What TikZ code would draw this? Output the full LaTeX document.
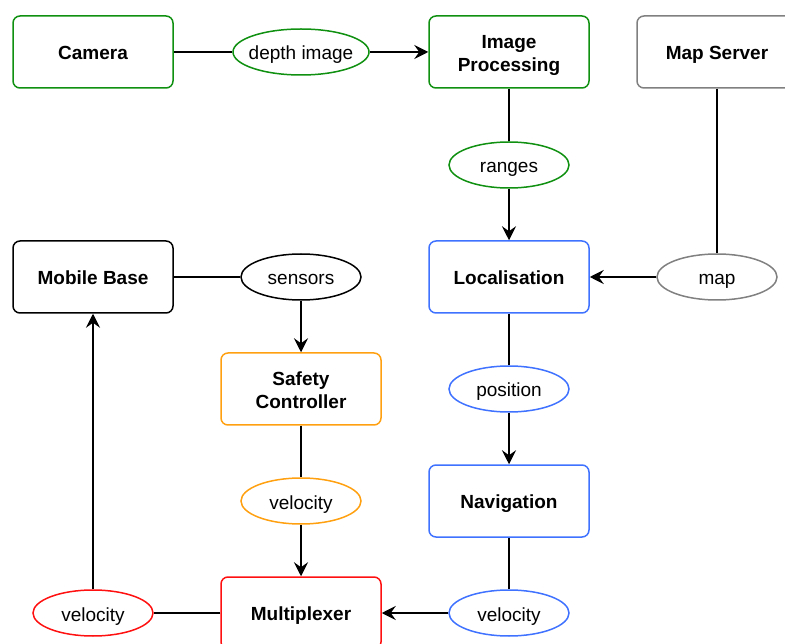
\documentclass[tikz,border=0pt]{standalone}
\usepackage{fontspec}
\setmainfont{Liberation Sans}
\usetikzlibrary{arrows.meta,shapes.geometric}
\definecolor{cgreen}{HTML}{109010}
\definecolor{cblue}{HTML}{3F72FF}
\definecolor{corange}{HTML}{FFA010}
\definecolor{cred}{HTML}{FF1010}
\definecolor{cgray}{HTML}{808080}
\begin{document}
\begin{tikzpicture}[x=1pt,y=-1pt,
  box/.style={draw, rounded corners=7pt, line width=1.5pt, minimum width=160pt, minimum height=72pt,
    inner sep=0pt, text height=19pt, text depth=4pt,
    font=\fontsize{19}{23}\selectfont\bfseries, align=center},
  twoline/.style={text height=42pt, text depth=2pt},
  msg/.style={draw, ellipse, line width=1.5pt, minimum width=120pt, minimum height=46pt,
    inner sep=0pt, text height=18pt, text depth=2pt, font=\fontsize{19}{23}\selectfont},
  link/.style={line width=1.5pt},
  flow/.style={line width=1.5pt, -{Stealth[length=14pt,width=14pt,inset=5pt]}}]
\useasboundingbox (0,0) rectangle (785,644);
\clip (0,0) rectangle (785,644);
\node[box, draw=cgreen] (cam) at (93,52) {Camera};
\node[box, twoline, draw=cgreen] (imp) at (509,52) {Image\\Processing};
\node[box, draw=cgray] (map) at (717,52) {Map Server};
\node[box, draw=black] (mob) at (93,277) {Mobile Base};
\node[box, draw=cblue] (loc) at (509,277) {Localisation};
\node[box, twoline, draw=corange] (saf) at (301,389) {Safety\\Controller};
\node[box, draw=cblue] (nav) at (509,501) {Navigation};
\node[box, draw=cred] (mux) at (301,613) {Multiplexer};

\node[msg, draw=cgreen, minimum width=136pt] (dep) at (301,52) {\makebox[40pt][c]{depth image}};
\node[msg, draw=cgreen] (ran) at (509,165) {ranges};
\node[msg, draw=cgray] (mapm) at (717,277) {map};
\node[msg, draw=black] (sen) at (301,277) {sensors};
\node[msg, draw=cblue] (pos) at (509,389) {position};
\node[msg, draw=corange] (vo) at (301,501) {velocity};
\node[msg, draw=cblue] (vb) at (509,613) {velocity};
\node[msg, draw=cred] (vr) at (93,613) {velocity};

\draw[link] (cam) -- (dep);
\draw[flow] (dep) -- (imp);
\draw[link] (imp) -- (ran);
\draw[flow] (ran) -- (loc);
\draw[link] (map) -- (mapm);
\draw[flow] (mapm) -- (loc);
\draw[link] (mob) -- (sen);
\draw[flow] (sen) -- (saf);
\draw[link] (loc) -- (pos);
\draw[flow] (pos) -- (nav);
\draw[link] (saf) -- (vo);
\draw[flow] (vo) -- (mux);
\draw[link] (nav) -- (vb);
\draw[flow] (vb) -- (mux);
\draw[link] (mux) -- (vr);
\draw[flow] (vr) -- (mob);
\end{tikzpicture}
\end{document}
